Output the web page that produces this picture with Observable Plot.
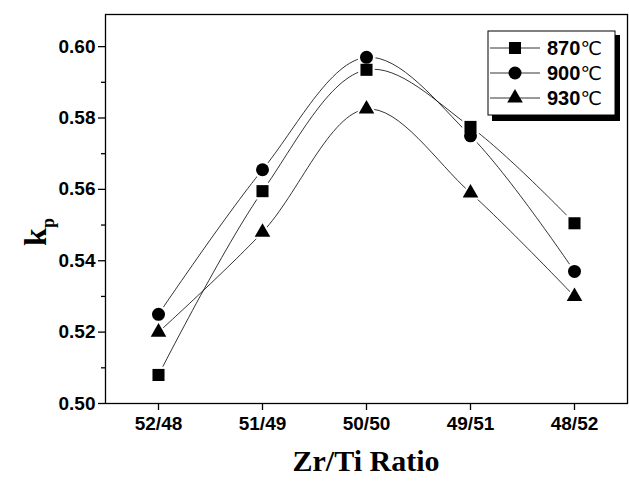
<!DOCTYPE html>
<html>
<head>
<meta charset="utf-8">
<script src="https://cdn.jsdelivr.net/npm/d3@7"></script>
<script src="https://cdn.jsdelivr.net/npm/@observablehq/plot@0.6"></script>
<style>
  html, body { margin: 0; padding: 0; background: #fff; }
  #chart { position: relative; width: 629px; height: 482px; }
  svg { font-family: "Liberation Sans", Arial, sans-serif; }
</style>
</head>
<body>
<div id="chart"></div>
<script>
const ratios = ["52/48", "51/49", "50/50", "49/51", "48/52"];
const seriesNames = ["870℃", "900℃", "930℃"];
const symbols = ["square", "circle", "triangle"];
const kp870 = [0.508, 0.5595, 0.5935, 0.5775, 0.5505];
const kp900 = [0.525, 0.5655, 0.597, 0.575, 0.537];
const kp930 = [0.520, 0.548, 0.5825, 0.559, 0.530];
const yTicks = [0.50, 0.52, 0.54, 0.56, 0.58, 0.60];
const yMinor = [0.51, 0.53, 0.55, 0.57, 0.59];

const allSeries = [kp870, kp900, kp930];
const data = [];
allSeries.forEach((vals, si) => vals.forEach((v, i) => data.push({ratio: ratios[i], kp: v, series: seriesNames[si], sym: symbols[si]})));

const symR = {square: 6.8, circle: 6.5, triangle: 5.8};
const d3Sym = {square: d3.symbolSquare, circle: d3.symbolCircle, triangle: d3.symbolTriangle};

const plot = Plot.plot({
  width: 629,
  height: 482,
  marginLeft: 105,
  marginRight: 2,
  marginTop: 14,
  marginBottom: 79,
  style: {background: "#fff", color: "#000", fontFamily: "'Liberation Sans', Arial, sans-serif"},
  x: {type: "point", domain: ratios, padding: 0.5},
  y: {domain: [0.5, 0.609]},
  symbol: {domain: symbols, range: symbols},
  marks: [
    Plot.line(data, {x: "ratio", y: "kp", z: "series", curve: "catmull-rom", stroke: "#000", strokeWidth: 0.8}),
    ...symbols.map(s => Plot.dot(data.filter(d => d.sym === s), {x: "ratio", y: "kp", symbol: () => s, r: symR[s] + 2.5, fill: "#fff", stroke: "none"})),
    ...symbols.map(s => Plot.dot(data.filter(d => d.sym === s), {x: "ratio", y: "kp", symbol: () => s, r: symR[s], fill: "#000", stroke: "none"})),
    Plot.frame({stroke: "#000", strokeWidth: 1.3}),
    Plot.axisX({ticks: ratios, tickSize: 7, tickPadding: 6, label: null, fontSize: 19, fontWeight: "bold", strokeWidth: 1.3}),
    Plot.axisY({ticks: yTicks, tickSize: 7, tickPadding: 3, tickFormat: d3.format(".2f"), label: null, fontSize: 19, fontWeight: "bold", strokeWidth: 1.3}),
    Plot.axisY({ticks: yMinor, tickSize: 4, tickFormat: () => "", label: null, strokeWidth: 1.3})
  ]
});

document.getElementById("chart").appendChild(plot);
const svg = d3.select(plot);

// Axis titles
svg.append("text")
  .attr("x", 366).attr("y", 471)
  .attr("text-anchor", "middle")
  .attr("font-family", "'Liberation Serif', 'Times New Roman', serif")
  .attr("font-weight", "bold").attr("font-size", 30)
  .text("Zr/Ti Ratio");

const yl = svg.append("text")
  .attr("transform", "translate(46,232) rotate(-90)")
  .attr("text-anchor", "middle")
  .attr("font-family", "'Liberation Serif', 'Times New Roman', serif")
  .attr("font-weight", "bold").attr("font-size", 32);
yl.append("tspan").text("k");
yl.append("tspan").attr("font-size", 18).attr("dy", 8).text("p");

// Legend
const lg = svg.append("g").attr("transform", "translate(488,31)");
lg.append("rect").attr("x", 4).attr("y", 4).attr("width", 128).attr("height", 86).attr("fill", "#000");
lg.append("rect").attr("x", 0).attr("y", 0).attr("width", 127).attr("height", 84).attr("fill", "#fff").attr("stroke", "#000").attr("stroke-width", 1);
seriesNames.forEach((name, i) => {
  const yy = 17 + i * 25;
  lg.append("line").attr("x1", 2).attr("x2", 52).attr("y1", yy).attr("y2", yy).attr("stroke", "#000").attr("stroke-width", 0.8);
  lg.append("path").attr("transform", `translate(27,${yy})`)
    .attr("d", d3.symbol(d3Sym[symbols[i]], Math.PI * symR[symbols[i]] ** 2)())
    .attr("fill", "#000");
  const t = lg.append("text").attr("x", 59).attr("y", yy + 7)
    .attr("text-anchor", "start")
    .attr("font-size", 20).attr("font-weight", "bold")
    .text(name.replace("℃", ""));
  t.append("tspan").attr("font-weight", "normal").attr("font-family", "'DejaVu Sans', 'Noto Sans CJK SC', sans-serif").attr("font-size", 19).text("℃");
});
</script>
</body>
</html>
